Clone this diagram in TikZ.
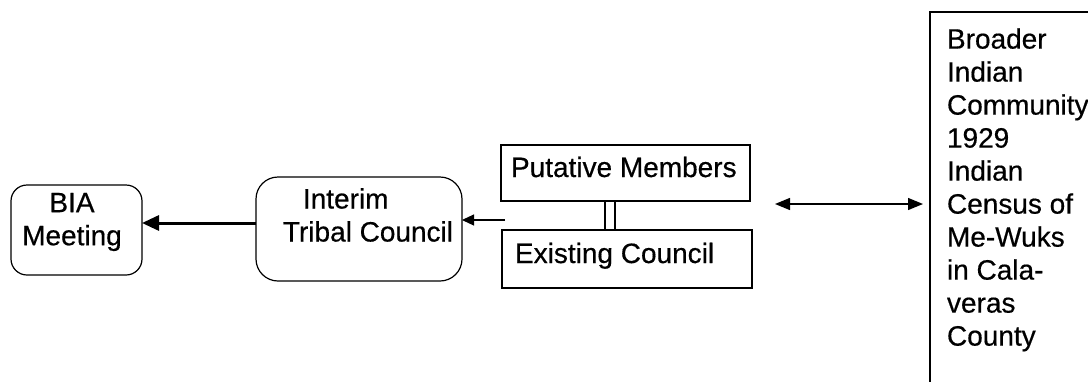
\documentclass[tikz,border=0pt]{standalone}
\usepackage{fontspec}
\setmainfont{Liberation Sans}[FakeBold=0.5]
\usetikzlibrary{arrows.meta,calc}
\begin{document}
\begin{tikzpicture}[x=1pt,y=-1pt,
  box/.style={draw,line width=1.2pt,outer sep=0pt,inner sep=0pt},
  txt/.style={inner sep=0pt,outer sep=0pt,font=\fontsize{28}{33}\selectfont},
  thin arrow/.style={line width=1.2pt,-{Triangle[length=12pt,width=11pt]}},
  thick arrow/.style={line width=3pt,-{Triangle[length=17pt,width=15pt]}},
  both arrow/.style={line width=1.3pt,{Triangle[length=15pt,width=12pt]}-{Triangle[length=15pt,width=12pt]}}]
\useasboundingbox (0,0) rectangle (1088,381);
\clip (0,0) rectangle (1088,381);
\fill[white] (0,0) rectangle (1088,381);
% BIA Meeting
\node[box,rounded corners=16pt,minimum width=131pt,minimum height=90pt] (bia) at (76.5,230) {};
\node[txt,align=center] (biat) at (72,222) {BIA\\Meeting};
% Interim Tribal Council
\node[box,rounded corners=22pt,minimum width=206pt,minimum height=104pt] (interim) at (359,229) {};
\node[txt,align=left] (interimt) at (368,215) {\hspace*{20pt}Interim\\Tribal Council};
% Putative Members / Existing Council
\node[box,minimum width=249pt,minimum height=56pt] (put) at (625.5,173) {};
\node[txt,anchor=base west] (putt) at (511,177) {Putative Members};
\node[box,minimum width=250pt,minimum height=58pt] (exist) at (627,259) {};
\node[txt,anchor=base west] (existt) at (515,263) {Existing Council};
% Big box
\draw[line width=1.2pt] (1100,12) -- (930,12) -- (930,395);
\node[txt,align=left,anchor=north west] (bigt) at (947,28.3) {Broader\\Indian\\Community\\1929\\Indian\\Census of\\Me-Wuks\\in Cala-\\veras\\County};
% connectors
\coordinate (bl) at (930,204);
\coordinate (dl) at (775,204);
\draw[both arrow,shorten >=7pt] (dl) -- (bl);
\coordinate (src) at (505,220);
\draw[thin arrow] (src) -- ([yshift=9pt]interim.east);
\draw[thick arrow] ([yshift=6pt]interim.west) -- ([yshift=7pt]bia.east);
\coordinate (d1) at ($(put.south)+(-20.5,0)$);
\coordinate (d2) at ($(put.south)+(-10.5,0)$);
\draw[line width=1.2pt] (d1) -- (d1 |- exist.north) (d2) -- (d2 |- exist.north);
\end{tikzpicture}
\end{document}
